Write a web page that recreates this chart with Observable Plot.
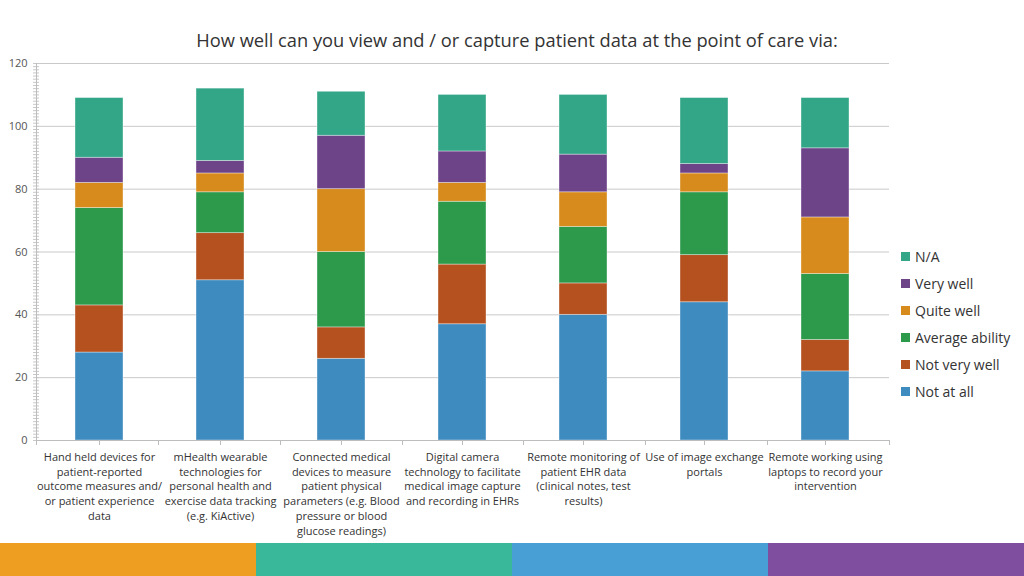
<!DOCTYPE html>
<html><head><meta charset="utf-8">
<script src="https://cdn.jsdelivr.net/npm/d3@7"></script>
<script src="https://cdn.jsdelivr.net/npm/@observablehq/plot@0.6"></script>
<style>
body{margin:0;background:#fff;font-family:"Open Sans",sans-serif;}
#wrap{position:relative;width:1024px;height:576px;overflow:hidden;background:#fff;}
#title{position:absolute;top:27px;left:5px;width:1024px;text-align:center;font-size:18.3px;color:#333;}
#chart{position:absolute;top:0;left:0;}
#legend{position:absolute;left:901px;top:243px;font-size:14px;color:#333;}
.item{display:flex;align-items:center;height:27px;}
.sw{width:9px;height:9px;margin-right:5px;}
#strip{position:absolute;left:0;top:543px;width:1024px;height:33px;display:flex;}
#strip div{flex:1;}
</style></head>
<body>
<div id="wrap">
  <div id="chart"></div>
  <div id="title">How well can you view and / or capture patient data at the point of care via:</div>
  <div id="legend"></div>
  <div id="strip"></div>
</div>
<script>
const categories = [
  "Hand held devices for patient-reported outcome measures and/ or patient experience data",
  "mHealth wearable technologies for personal health and exercise data tracking (e.g. KiActive)",
  "Connected medical devices to measure patient physical parameters (e.g. Blood pressure or blood glucose readings)",
  "Digital camera technology to facilitate medical image capture and recording in EHRs",
  "Remote monitoring of patient EHR data (clinical notes, test results)",
  "Use of image exchange portals",
  "Remote working using laptops to record your intervention"
];
const tickLabels = [
  "Hand held devices for\npatient-reported\noutcome measures and/\nor patient experience\ndata",
  "mHealth wearable\ntechnologies for\npersonal health and\nexercise data tracking\n(e.g. KiActive)",
  "Connected medical\ndevices to measure\npatient physical\nparameters (e.g. Blood\npressure or blood\nglucose readings)",
  "Digital camera\ntechnology to facilitate\nmedical image capture\nand recording in EHRs",
  "Remote monitoring of\npatient EHR data\n(clinical notes, test\nresults)",
  "Use of image exchange\nportals",
  "Remote working using\nlaptops to record your\nintervention"
];
const responses = ["Not at all", "Not very well", "Average ability", "Quite well", "Very well", "N/A"];
const notAtAll    = [28, 51, 26, 37, 40, 44, 22];
const notVeryWell = [15, 15, 10, 19, 10, 15, 10];
const average     = [31, 13, 24, 20, 18, 20, 21];
const quiteWell   = [8, 6, 20, 6, 11, 6, 18];
const veryWell    = [8, 4, 17, 10, 12, 3, 22];
const notApplicable = [19, 23, 14, 18, 19, 21, 16];
const colors = ["#3d8bbf", "#b4511f", "#2d994b", "#d68b1c", "#6e4489", "#32a687"];
const yTicks = [0, 20, 40, 60, 80, 100, 120];
const stripColors = ["#ee9f22", "#3ab99a", "#479fd6", "#7f4e9e"];

const series = [notAtAll, notVeryWell, average, quiteWell, veryWell, notApplicable];
const rows = [];
categories.forEach((c, i) => {
  responses.forEach((r, j) => rows.push({category: c, response: r, value: series[j][i]}));
});

function axisLines(index, scales, values, dims) {
  const {width, height, marginLeft, marginRight, marginTop, marginBottom} = dims;
  const x0 = marginLeft, x1 = width - marginRight;
  const yb = height - marginBottom, yt = marginTop;
  const g = d3.create("svg:g").attr("stroke", "#bdbdbd").attr("stroke-width", 1);
  g.append("line").attr("x1", x0 + 0.5).attr("x2", x0 + 0.5).attr("y1", yt).attr("y2", yb);
  g.append("line").attr("x1", x0).attr("x2", x1).attr("y1", yb + 0.5).attr("y2", yb + 0.5);
  const step = (x1 - x0) / categories.length;
  d3.range(categories.length + 1).forEach(k => {
    const xx = Math.round(x0 + k * step) + 0.5;
    g.append("line").attr("x1", xx).attr("x2", xx).attr("y1", yb).attr("y2", yb + 5);
  });
  return g.node();
}

const chart = Plot.plot({
  width: 1024,
  height: 543,
  marginLeft: 36,
  marginRight: 135,
  marginTop: 63,
  marginBottom: 103,
  style: {fontFamily: "Open Sans, sans-serif", fontSize: "11px", color: "#444", background: "transparent"},
  x: {domain: categories, paddingInner: 0.6, paddingOuter: 0.3, label: null},
  y: {domain: [0, 120], label: null},
  color: {domain: responses, range: colors},
  marks: [
    Plot.gridY(yTicks.slice(1), {stroke: "#c9c9c9", strokeOpacity: 1}),
    Plot.axisY(d3.range(0, 121), {tickSize: 6, dx: 3, tickFormat: () => "", stroke: "#c8c8c8"}),
    Plot.axisY(yTicks, {tickSize: 0, tickPadding: 9, fontSize: 11, fill: "#555"}),
    Plot.barY(rows, {x: "category", y: "value", fill: "response", stroke: "white", strokeOpacity: 0.45, strokeWidth: 0.8}),
    Plot.axisX({tickSize: 5, tickPadding: 5, tickFormat: d => tickLabels[categories.indexOf(d)], fontSize: 11, lineHeight: 1.34, stroke: "#bdbdbd", fill: "#333"}),
    axisLines
  ]
});
document.getElementById("chart").appendChild(chart);

const legend = document.getElementById("legend");
responses.slice().reverse().forEach(r => {
  const item = document.createElement("div");
  item.className = "item";
  const sw = document.createElement("div");
  sw.className = "sw";
  sw.style.background = colors[responses.indexOf(r)];
  const t = document.createElement("span");
  t.textContent = r;
  item.appendChild(sw); item.appendChild(t);
  legend.appendChild(item);
});

const strip = document.getElementById("strip");
stripColors.forEach(c => {
  const d = document.createElement("div");
  d.style.background = c;
  strip.appendChild(d);
});
</script>
</body></html>
